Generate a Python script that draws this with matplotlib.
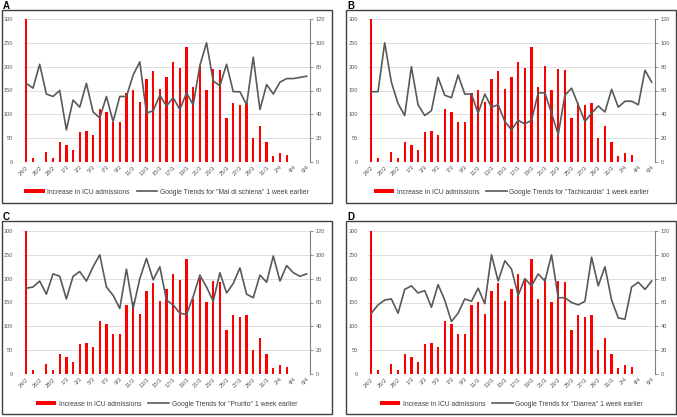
import matplotlib
matplotlib.use('Agg')
import matplotlib.pyplot as plt
from matplotlib.patches import Rectangle, Patch
from matplotlib.lines import Line2D

plt.rcParams['font.family'] = ['Liberation Sans', 'DejaVu Sans']

# dates 24/2 .. 6/4 (2020)
dates = ([f'{d}/2' for d in range(24, 30)] + [f'{d}/3' for d in range(1, 32)]
         + [f'{d}/4' for d in range(1, 7)])

icu_increase = [300, 9, 1, 20, 8, 41, 35, 26, 63, 66, 56, 111, 105, 83, 83,
                144, 151, 125, 175, 190, 154, 179, 209, 197, 241, 157, 202,
                152, 195, 192, 93, 123, 120, 124, 50, 75, 42, 12, 18, 15,
                0, 0, 0]

trend_mal_di_schiena = [66, 62, 82, 57, 55, 60, 27, 52, 46, 66, 42, 37, 55, 34,
                        55, 55, 73, 84, 41, 43, 56, 47, 54, 44, 58, 48, 81, 100,
                        68, 64, 82, 59, 59, 48, 88, 44, 65, 57, 67, 70, 70, 71, 72]
trend_tachicardia = [59, 59, 100, 67, 49, 39, 80, 48, 39, 43, 71, 56, 54, 73,
                     57, 57, 41, 57, 46, 48, 34, 27, 35, 32, 35, 58, 58, 41, 23,
                     56, 62, 48, 34, 41, 47, 42, 61, 46, 51, 51, 48, 77, 67]
trend_prurito = [72, 73, 78, 67, 84, 82, 63, 82, 86, 78, 90, 100, 73, 66, 55,
                 88, 55, 80, 97, 79, 90, 62, 58, 51, 50, 65, 83, 73, 61, 85, 68,
                 76, 89, 67, 64, 83, 77, 99, 78, 91, 85, 82, 84]
trend_diarrea = [51, 58, 62, 63, 51, 71, 74, 68, 70, 56, 75, 62, 44, 51, 63,
                 61, 72, 59, 100, 78, 95, 88, 66, 80, 74, 84, 78, 100, 64, 64,
                 60, 58, 61, 98, 74, 90, 62, 47, 46, 73, 77, 71, 78]

panels = [
    ('A', 'Mal di schiena', trend_mal_di_schiena),
    ('B', 'Tachicardia', trend_tachicardia),
    ('C', 'Prurito', trend_prurito),
    ('D', 'Diarrea', trend_diarrea),
]

W, H = 677, 417
fig = plt.figure(figsize=(W / 100, H / 100), dpi=100)

axes_px = [(23, 19), (368, 19), (23, 231), (368, 231)]
frames_px = [(2, 10), (346, 10), (2, 221), (346, 221)]
ax_w, ax_h = 287, 143
frame_w, frame_h = 330, 193

txt_col = '#595959'
x = list(range(len(dates)))

for (letter, term, trend), (lx, ty), (fx, fy) in zip(panels, axes_px, frames_px):
    # frame around each panel
    fig.add_artist(Rectangle((fx / W, 1 - (fy + frame_h) / H), frame_w / W, frame_h / H,
                             transform=fig.transFigure, fill=False,
                             edgecolor='#404040', linewidth=1.0))
    fig.text((fx + 1) / W, 1 - (fy - 9) / H, letter, fontsize=7, fontweight='bold',
             va='top', ha='left')

    ax = fig.add_axes([lx / W, 1 - (ty + ax_h) / H, ax_w / W, ax_h / H])
    ax.bar(x, icu_increase, width=0.34, color='#ff0000', zorder=2)
    ax.set_ylim(0, 300)
    ax.set_yticks(range(0, 301, 50))
    ax.set_xlim(-0.5, len(dates) - 0.5)
    ax.set_xticks(x[::2])
    ax.set_xticklabels(dates[::2], rotation=45, ha='right', rotation_mode='anchor',
                       fontsize=4.2, color=txt_col)
    ax.tick_params(axis='y', length=0, labelsize=4.1, labelcolor=txt_col, pad=7)
    ax.tick_params(axis='x', length=0, pad=2)
    ax.grid(axis='y', color='#d9d9d9', linewidth=0.6, zorder=0)
    for s in ['top', 'right', 'left', 'bottom']:
        ax.spines[s].set_visible(False)
    ax.set_axisbelow(True)

    ax2 = ax.twinx()
    ax2.plot(x, trend, color='#595959', linewidth=1.2, zorder=3)
    ax2.set_ylim(0, 120)
    ax2.set_yticks(range(0, 121, 20))
    ax2.tick_params(axis='y', length=2, width=0.6, color='#808080',
                    labelsize=4.1, labelcolor=txt_col, pad=2)
    for s in ['top', 'left', 'bottom']:
        ax2.spines[s].set_visible(False)
    ax2.spines['right'].set_color('#808080')
    ax2.spines['right'].set_linewidth(0.8)

    handles = [Patch(facecolor='#ff0000', edgecolor='none'),
               Line2D([0], [0], color='#595959', linewidth=1.2)]
    labels = ['Increase in ICU admissions',
              f'Google Trends for "{term}" 1 week earlier']
    ax.legend(handles, labels, loc='center', bbox_to_anchor=(0.5, -0.21),
              ncol=2, frameon=False, fontsize=4.9, handlelength=3.0,
              handleheight=0.6, columnspacing=1.0, handletextpad=0.4,
              labelcolor='#404040')

fig.savefig('out.png', dpi=100)
